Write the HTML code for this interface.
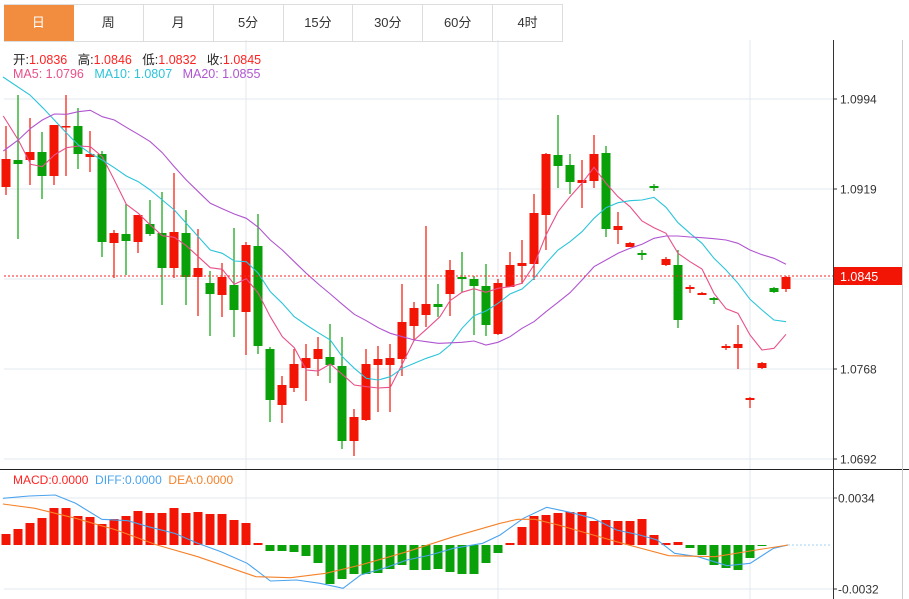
<!DOCTYPE html>
<html><head><meta charset="utf-8">
<style>
html,body{margin:0;padding:0;background:#fff;width:909px;height:599px;overflow:hidden}
body{font-family:"Liberation Sans","Noto Sans CJK SC",sans-serif;position:relative}
.tabs{position:absolute;left:4px;top:4px;height:36px;width:559px;border-top:1px solid #ddd;border-bottom:1px solid #ddd;display:flex}
.tab{width:69px;border-right:1px solid #ddd;text-align:center;line-height:36px;font-size:13px;color:#333}
.tab.on{background:#f28c3f;color:#fff;border-right:1px solid #f28c3f}
.info{position:absolute;left:13px;font-size:12.5px;white-space:nowrap}
</style></head><body>
<div class="tabs"><div class="tab on">日</div><div class="tab">周</div><div class="tab">月</div><div class="tab">5分</div><div class="tab">15分</div><div class="tab">30分</div><div class="tab">60分</div><div class="tab">4时</div></div>
<svg id="s" width="909" height="599" style="position:absolute;left:0;top:0" xmlns="http://www.w3.org/2000/svg"></svg>
<div class="info" style="top:49px;color:#222">开:<span style="color:#f22">1.0836</span>&nbsp;&nbsp; 高:<span style="color:#f22">1.0846</span>&nbsp;&nbsp; 低:<span style="color:#f22">1.0832</span>&nbsp;&nbsp; 收:<span style="color:#f22">1.0845</span></div>
<div class="info" style="top:67px"><span style="color:#e8508a">MA5: 1.0796</span>&nbsp;&nbsp; <span style="color:#2cc4da">MA10: 1.0807</span>&nbsp;&nbsp; <span style="color:#b055d0">MA20: 1.0855</span></div>
<div class="info" style="top:473px;font-size:12px"><span style="color:#f22">MACD:0.0000</span>&nbsp;&nbsp;<span style="color:#4aa3ee">DIFF:0.0000</span>&nbsp;&nbsp;<span style="color:#f5822a">DEA:0.0000</span></div>
<script>
var s=document.getElementById('s'),h='';
var R='#f21505',G='#0aa00a';
[99,189,279,369,459].forEach(function(y){h+='<line x1="4" x2="833" y1="'+y+'" y2="'+y+'" stroke="#e3e8ee"/>';});
[246,498,750].forEach(function(x){h+='<line x1="'+x+'" x2="'+x+'" y1="40" y2="599" stroke="#e3e8ee"/>';});
[498,589].forEach(function(y){h+='<line x1="4" x2="833" y1="'+y+'" y2="'+y+'" stroke="#e3e8ee"/>';});
h+='<line x1="0" x2="909" y1="469.5" y2="469.5" stroke="#222"/>';
h+='<line x1="833.5" x2="833.5" y1="40" y2="599" stroke="#333"/>';
h+='<line x1="902.5" x2="902.5" y1="40" y2="599" stroke="#ccc"/>';
[[99,'1.0994'],[189,'1.0919'],[369,'1.0768'],[459,'1.0692']].forEach(function(t){h+='<line x1="833" x2="837" y1="'+t[0]+'" y2="'+t[0]+'" stroke="#333"/><text x="840" y="'+(t[0]+4.5)+'" font-size="12" fill="#333" font-family="Liberation Sans">'+t[1]+'</text>';});
[[498,'0.0034'],[589,'-0.0032']].forEach(function(t){h+='<line x1="833" x2="837" y1="'+t[0]+'" y2="'+t[0]+'" stroke="#333"/><text x="838" y="'+(t[0]+4.5)+'" font-size="12" fill="#333" font-family="Liberation Sans">'+t[1]+'</text>';});
var c=[[159,187,126,195,1],[160,164,95,239,0],[152,160,118,185,1],[152,176,132,199,0],[125,176,125,185,1],[126,127,95,176,1],[126,154,108,169,0],[154,157,131,172,1],[154,242,151,257,0],[233,243,230,278,1],[234,241,204,275,0],[215,242,215,253,1],[224,234,200,236,0],[233,268,192,305,0],[232,268,173,278,1],[233,277,210,305,0],[268,277,229,316,1],[283,294,271,336,0],[277,295,263,317,1],[285,310,228,337,0],[245,312,242,355,1],[246,346,214,354,0],[349,400,347,422,0],[385,405,376,423,1],[364,388,349,392,1],[358,368,344,401,1],[349,359,337,376,1],[357,365,324,383,0],[366,441,337,449,0],[417,441,409,456,1],[364,420,349,421,1],[359,365,346,412,1],[358,365,344,412,1],[322,359,284,376,1],[308,326,302,341,1],[304,315,226,327,1],[304,307,284,317,0],[270,294,260,316,1],[277,279,252,292,0],[279,286,276,335,0],[286,325,264,336,0],[283,334,279,335,1],[265,287,252,287,1],[263,266,240,284,1],[213,264,194,280,1],[154,215,153,250,1],[155,166,115,188,0],[165,182,154,194,0],[180,183,160,208,1],[154,181,135,188,1],[153,229,146,237,0],[226,230,212,244,1],[243,247,242,247,1],[253,255,250,260,0],[186,188,184,191,0],[259,265,257,266,1],[265,320,250,328,0],[287,289,285,293,1],[293,295,292,295,1],[298,300,297,304,0],[346,348,344,350,1],[344,348,325,369,1],[398,400,397,408,1],[363,368,362,369,1],[288,292,287,293,0],[277,289,276,292,1]];
c.forEach(function(d,i){var x=6+12*i,col=d[4]?R:G;
h+='<line x1="'+x+'" x2="'+x+'" y1="'+d[2]+'" y2="'+d[3]+'" stroke="'+col+'" stroke-width="1.2"/>';
h+='<rect x="'+(x-4.5)+'" y="'+d[0]+'" width="9" height="'+Math.max(1.5,d[1]-d[0])+'" fill="'+col+'"/>';});
function pl(pts,col,tx,ty,sx,sy){var p=pts.map(function(q){return (tx+q[0]*sx).toFixed(1)+','+(ty+q[1]*sy).toFixed(1)}).join(' ');h+='<polyline points="'+p+'" fill="none" stroke="'+col+'" stroke-width="1.1"/>';}
var k=1/3;
pl([[10,78],[55,150],[92,223],[127,230],[163,195],[200,173],[235,168],[271,170],[307,200],[343,270],[379,343],[415,370],[451,405],[487,437],[523,442],[559,467],[595,500],[631,533],[667,538],[703,583],[739,566],[775,610],[811,680],[847,740],[883,773],[919,840],[955,843],[991,822],[1027,853],[1063,885],[1099,890],[1135,894],[1171,892],[1207,822],[1243,750],[1279,718],[1320,680]],'#e8508a',0,90,k,k);
pl([[0,680],[30,632],[66,607],[102,596],[138,607],[174,595],[210,590],[246,580],[282,525],[318,435],[354,365],[390,320],[426,280],[462,232],[498,280],[534,320],[570,350],[606,393],[642,413],[678,430],[714,490],[750,515],[786,537],[822,610],[858,656],[894,670],[930,735],[966,780],[1002,775],[1038,733]],'#e8508a',440,90,k,k);
pl([[9,-39],[90,15],[130,55],[163,90],[200,130],[235,165],[271,190],[307,210],[343,233],[379,258],[415,275],[451,300],[487,330],[523,360],[559,400],[595,440],[631,480],[667,490],[703,513],[739,515],[775,550],[811,605],[847,640],[883,680],[919,705],[955,728],[991,750],[1027,800],[1063,835],[1099,865],[1135,870],[1171,860],[1207,835],[1243,820],[1279,805],[1315,793],[1320,790]],'#2cc4da',0,90,k,k);
pl([[0,790],[30,765],[66,715],[102,677],[138,663],[174,640],[210,612],[246,597],[282,565],[318,520],[354,480],[390,455],[426,425],[462,385],[498,353],[534,338],[570,332],[606,330],[642,322],[678,352],[714,398],[750,430],[786,460],[822,505],[858,540],[894,580],[930,628],[966,660],[1002,690],[1038,695]],'#2cc4da',440,90,k,k);
pl([[10,183],[55,150],[92,115],[127,90],[163,72],[200,73],[235,65],[271,61],[307,80],[343,90],[379,112],[415,133],[451,155],[487,188],[523,230],[559,270],[595,305],[631,340],[667,356],[703,372],[739,385],[775,412],[811,450],[847,480],[883,515],[919,550],[955,582],[991,612],[1027,643],[1063,673],[1099,692],[1135,713],[1171,730],[1207,740],[1243,750],[1279,755],[1315,760],[1320,760]],'#b055d0',0,90,k,k);
pl([[0,760],[66,757],[102,753],[138,765],[174,757],[210,740],[246,715],[282,695],[318,665],[354,637],[390,608],[426,570],[462,530],[498,510],[534,490],[570,475],[606,463],[642,445],[678,438],[714,438],[750,441],[786,443],[822,446],[858,450],[894,460],[930,480],[966,494],[1002,505],[1038,523]],'#b055d0',440,90,k,k);
h+='<line x1="4" x2="833" y1="276" y2="276" stroke="#f22" stroke-dasharray="2,2"/>';
h+='<rect x="834" y="267" width="68" height="18" fill="#f21505"/><text x="840" y="281" font-size="12.5" fill="#fff" font-family="Liberation Sans">1.0845</text>';
var m=[11,16,22,27,37,37,29,28,21,26,29,34,32,32,37,32,33,31,31,25,22,2,-6,-6,-7,-11,-18,-39,-34,-29,-29,-28,-24,-20,-25,-25,-24,-27,-29,-29,-18,-8,2,18,29,30,32,33,33,24,25,24,24,26,10,2,3,-3,-10,-20,-23,-25,-13,-1,0,0];
m.forEach(function(v,i){var x=6+12*i;if(v>0)h+='<rect x="'+(x-4.5)+'" y="'+(545-v)+'" width="9" height="'+v+'" fill="'+R+'"/>';else if(v<0)h+='<rect x="'+(x-4.5)+'" y="545" width="9" height="'+(-v)+'" fill="'+G+'"/>';});
var mx=1/1.7195;
pl([[5,100],[50,93],[95,90],[130,115],[175,163],[220,167],[255,185],[300,205],[340,235],[380,260],[425,295],[465,348],[510,345],[550,355],[590,370],[620,330],[660,310],[700,285],[740,270],[780,250],[830,235],[860,210],[900,160],[940,127],[980,142],[1020,160],[1060,195],[1100,210],[1130,225],[1160,265],[1200,275],[1250,302],[1290,295],[1330,250],[1355,240]],'#4aa3ee',0,465,mx,k);
pl([[5,117],[60,130],[130,160],[200,195],[270,240],[340,275],[440,335],[500,338],[560,325],[620,300],[700,260],[780,215],[860,175],[890,163],[920,163],[960,180],[1020,210],[1070,235],[1150,272],[1230,275],[1290,258],[1355,240]],'#f5822a',0,465,mx,k);
h+='<line x1="788" x2="832" y1="545" y2="545" stroke="#9fd6ee" stroke-dasharray="2,2"/>';
s.innerHTML=h;
</script>
</body></html>
